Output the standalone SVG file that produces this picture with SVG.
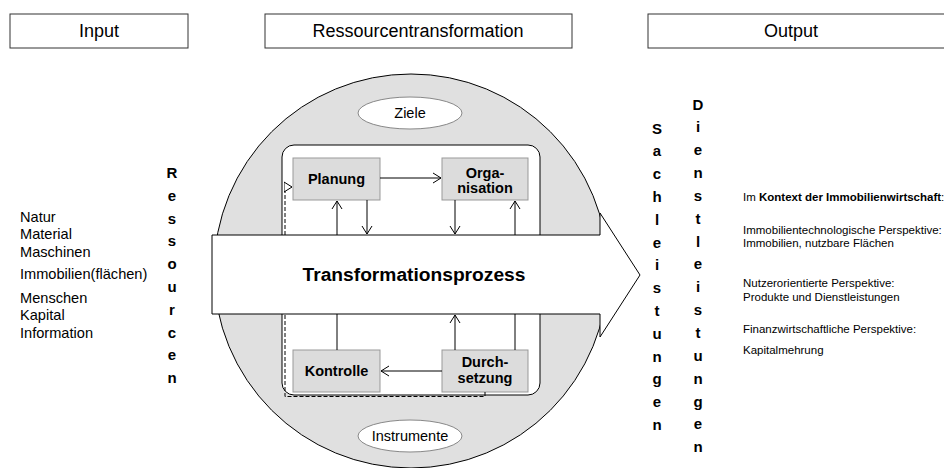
<svg xmlns="http://www.w3.org/2000/svg" width="944" height="468" viewBox="0 0 944 468">
<style>
text{font-family:"Liberation Sans",Arial,sans-serif;fill:#000}
.hdr{fill:#fff;stroke:#333;stroke-width:1}
.hdrt{font-size:18px;text-anchor:middle}
.lst{font-size:14.6px}
.vert{font-size:15px;font-weight:bold;text-anchor:middle}
.rt{font-size:11.5px}
.box{fill:#dcdcdc;stroke:#999;stroke-width:1}
.bt{font-size:14.5px;font-weight:bold;text-anchor:middle}
.ell{fill:#fff;stroke:#888;stroke-width:1}
.et{font-size:14.5px;text-anchor:middle}
.ln{stroke:#000;stroke-width:1;fill:none}
.dash{stroke:#000;stroke-width:1;fill:none;stroke-dasharray:4,2}
</style>
<defs>
<marker id="ah" markerUnits="userSpaceOnUse" markerWidth="10" markerHeight="12" refX="8" refY="6" orient="auto">
<path d="M0,1 L8,6 L0,11" fill="none" stroke="#000" stroke-width="1"/>
</marker>
<marker id="tri" markerUnits="userSpaceOnUse" markerWidth="10" markerHeight="12" refX="8" refY="6" orient="auto">
<path d="M0,1 L8,6 L0,11 Z" fill="#fff" stroke="#000" stroke-width="1"/>
</marker>
</defs>

<g id="header-input"><rect class="hdr" x="10" y="14" width="178" height="34"/><text class="hdrt" x="99" y="37">Input</text></g>
<g id="header-transformation"><rect class="hdr" x="265" y="14" width="307" height="34"/><text class="hdrt" x="418" y="37">Ressourcentransformation</text></g>
<g id="header-output"><rect class="hdr" x="648" y="14" width="300" height="34"/><text class="hdrt" x="791" y="37">Output</text></g>

<g id="inputs">
<text class="lst" x="20" y="222">Natur</text>
<text class="lst" x="20" y="239">Material</text>
<text class="lst" x="20" y="257">Maschinen</text>
<text class="lst" x="20" y="279">Immobilien(flächen)</text>
<text class="lst" x="20" y="303">Menschen</text>
<text class="lst" x="20" y="320">Kapital</text>
<text class="lst" x="20" y="338">Information</text>
</g>

<g id="ressourcen"><text class="vert"><tspan x="172" y="178">R</tspan><tspan x="172" dy="22.8">e</tspan><tspan x="172" dy="22.8">s</tspan><tspan x="172" dy="22.8">s</tspan><tspan x="172" dy="22.8">o</tspan><tspan x="172" dy="22.8">u</tspan><tspan x="172" dy="22.8">r</tspan><tspan x="172" dy="22.8">c</tspan><tspan x="172" dy="22.8">e</tspan><tspan x="172" dy="22.8">n</tspan></text></g>

<g id="circle"><circle cx="411" cy="271" r="197" fill="#e0e0e0" stroke="#000" stroke-width="1"/></g>
<g id="ziele"><ellipse class="ell" cx="410" cy="113" rx="52" ry="16"/><text class="et" x="410" y="118">Ziele</text></g>
<g id="instrumente"><ellipse class="ell" cx="410" cy="436" rx="52" ry="16"/><text class="et" x="410" y="441">Instrumente</text></g>

<g id="process-frame"><rect x="282" y="145" width="258" height="250" rx="12" fill="#fff" stroke="#000" stroke-width="1"/></g>

<g id="planung"><rect class="box" x="293" y="158" width="87" height="42"/><text class="bt" x="336.5" y="184">Planung</text></g>
<g id="organisation"><rect class="box" x="442" y="158" width="86" height="42"/><text class="bt" x="485" y="178">Orga-</text><text class="bt" x="485" y="193">nisation</text></g>
<g id="kontrolle"><rect class="box" x="293" y="350" width="87" height="42"/><text class="bt" x="336.5" y="376">Kontrolle</text></g>
<g id="durchsetzung"><rect class="box" x="442" y="350" width="86" height="42"/><text class="bt" x="485" y="367">Durch-</text><text class="bt" x="485" y="383">setzung</text></g>

<g id="connectors">
<line class="ln" x1="380" y1="178" x2="441" y2="178" marker-end="url(#ah)"/>
<line class="ln" x1="337" y1="236" x2="337" y2="201" marker-end="url(#ah)"/>
<line class="ln" x1="367" y1="200" x2="367" y2="234" marker-end="url(#ah)"/>
<line class="ln" x1="455" y1="200" x2="455" y2="234" marker-end="url(#ah)"/>
<line class="ln" x1="515" y1="236" x2="515" y2="201" marker-end="url(#ah)"/>
<line class="ln" x1="337" y1="314" x2="337" y2="350"/>
<line class="ln" x1="455" y1="350" x2="455" y2="315" marker-end="url(#ah)"/>
<line class="ln" x1="515" y1="314" x2="515" y2="350"/>
<line class="ln" x1="442" y1="371" x2="381" y2="371" marker-end="url(#ah)"/>
<path class="dash" d="M485,392 V396.5 H285 V187 H292" marker-end="url(#tri)"/>
</g>

<g id="transformationsprozess"><path d="M212,235 H600 V213 L640,275 L600,337 V314 H212 Z" fill="#fff" stroke="#000" stroke-width="1"/><text x="414" y="281" style="font-size:19.2px;font-weight:bold;text-anchor:middle">Transformationsprozess</text></g>

<g id="sachleistungen"><text class="vert"><tspan x="657" y="133.5">S</tspan><tspan x="657" dy="22.8">a</tspan><tspan x="657" dy="22.8">c</tspan><tspan x="657" dy="22.8">h</tspan><tspan x="657" dy="22.8">l</tspan><tspan x="657" dy="22.8">e</tspan><tspan x="657" dy="22.8">i</tspan><tspan x="657" dy="22.8">s</tspan><tspan x="657" dy="22.8">t</tspan><tspan x="657" dy="22.8">u</tspan><tspan x="657" dy="22.8">n</tspan><tspan x="657" dy="22.8">g</tspan><tspan x="657" dy="22.8">e</tspan><tspan x="657" dy="22.8">n</tspan></text></g>
<g id="dienstleistungen"><text class="vert"><tspan x="698" y="109.5">D</tspan><tspan x="698" dy="22.85">i</tspan><tspan x="698" dy="22.85">e</tspan><tspan x="698" dy="22.85">n</tspan><tspan x="698" dy="22.85">s</tspan><tspan x="698" dy="22.85">t</tspan><tspan x="698" dy="22.85">l</tspan><tspan x="698" dy="22.85">e</tspan><tspan x="698" dy="22.85">i</tspan><tspan x="698" dy="22.85">s</tspan><tspan x="698" dy="22.85">t</tspan><tspan x="698" dy="22.85">u</tspan><tspan x="698" dy="22.85">n</tspan><tspan x="698" dy="22.85">g</tspan><tspan x="698" dy="22.85">e</tspan><tspan x="698" dy="22.85">n</tspan></text></g>

<g id="outputs">
<text class="rt" x="743" y="201">Im <tspan font-weight="bold">Kontext der Immobilienwirtschaft</tspan>:</text>
<text class="rt" x="743" y="234">Immobilientechnologische Perspektive:</text>
<text class="rt" x="743" y="247">Immobilien, nutzbare Flächen</text>
<text class="rt" x="743" y="287">Nutzerorientierte Perspektive:</text>
<text class="rt" x="743" y="301">Produkte und Dienstleistungen</text>
<text class="rt" x="743" y="333">Finanzwirtschaftliche Perspektive:</text>
<text class="rt" x="743" y="354">Kapitalmehrung</text>
</g>
</svg>
